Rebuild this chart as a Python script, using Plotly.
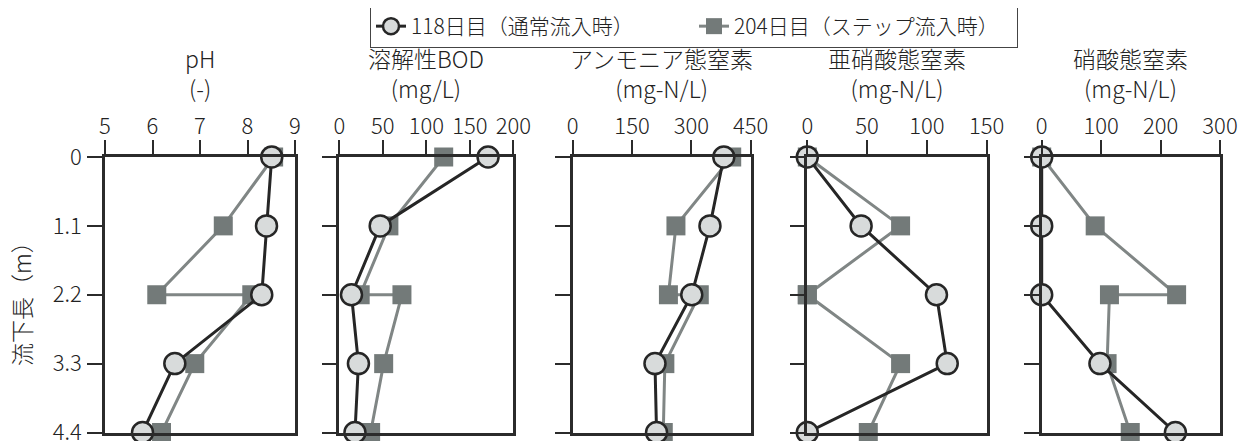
import plotly.graph_objects as go

# ---- data ----
depth1 = [0, 1.1, 2.2, 3.3, 4.4]               # 118日目
depth2 = [0, 1.1, 2.2, 2.2, 3.3, 4.4]          # 204日目 (step inflow at 2.2 m)
y_ticks = [0, 1.1, 2.2, 3.3, 4.4]
y_tick_labels = ["0", "1.1", "2.2", "3.3", "4.4"]

titles = ["pH<br>(-)", "溶解性BOD<br>(mg/L)", "アンモニア態窒素<br>(mg-N/L)",
          "亜硝酸態窒素<br>(mg-N/L)", "硝酸態窒素<br>(mg-N/L)"]
x_ranges = [[5, 9], [0, 200], [0, 450], [0, 150], [0, 300]]
x_ticks = [[5, 6, 7, 8, 9], [0, 50, 100, 150, 200], [0, 150, 300, 450],
           [0, 50, 100, 150], [0, 100, 200, 300]]

ph_118 = [8.51, 8.40, 8.30, 6.47, 5.79]
ph_204 = [8.55, 7.49, 6.09, 8.09, 6.89, 6.19]
bod_118 = [171, 47, 14, 22, 18]
bod_204 = [120, 57, 24, 72, 51, 36]
nh4_118 = [382, 347, 301, 208, 212]
nh4_204 = [402, 261, 242, 320, 233, 229]
no2_118 = [0, 45, 108, 117, 0]
no2_204 = [0, 78, 0, 0, 78, 51]
no3_118 = [0, 0, 0, 98, 225]
no3_204 = [0, 90, 227, 114, 110, 149]

series_118 = [ph_118, bod_118, nh4_118, no2_118, no3_118]
series_204 = [ph_204, bod_204, nh4_204, no2_204, no3_204]

name_118 = "118日目（通常流入時）"
name_204 = "204日目（ステップ流入時）"

# ---- layout geometry (pixels in the screenshot; page body has an 8px margin) ----
W, H = 1249, 441
OFF = 8
panel_px = [(105, 295), (339.3, 513.3), (572.7, 750.7), (807.3, 986.7), (1041.7, 1220)]
top_px, bot_px = 157, 432.5


def px_x(p):
    return (p - OFF) / W


def px_y(p):
    return 1 - (p - OFF) / H


FONT = "Noto Sans CJK JP, Noto Sans, sans-serif"
DARK = "#2b2b2b"
LINE1 = "#262626"
FILL1 = "#d8dbdb"
SQ = "#737a79"
LINE2 = "#808685"
TXT = "#222222"

fig = go.Figure()
layout = dict(
    width=W, height=H, margin=dict(l=0, r=0, t=0, b=0, autoexpand=False),
    paper_bgcolor="white", plot_bgcolor="white",
    font=dict(family=FONT, size=20, color=TXT, weight=300),
    showlegend=True,
)

for i in range(5):
    xa = "x" if i == 0 else f"x{i+1}"
    ya = "y" if i == 0 else f"y{i+1}"
    fig.add_trace(go.Scatter(
        x=series_204[i], y=depth2, xaxis=xa, yaxis=ya, mode="lines+markers",
        name=name_204, legendgroup="b", showlegend=(i == 0), legendrank=2,
        line=dict(color=LINE2, width=3),
        marker=dict(symbol="square", size=19, color=SQ, line=dict(width=0)),
        cliponaxis=False))
    fig.add_trace(go.Scatter(
        x=series_118[i], y=depth1, xaxis=xa, yaxis=ya, mode="lines+markers",
        name=name_118, legendgroup="a", showlegend=(i == 0), legendrank=1,
        line=dict(color=LINE1, width=3),
        marker=dict(symbol="circle", size=21, color=FILL1, line=dict(color=LINE1, width=2.5)),
        cliponaxis=False))

    x0, x1 = panel_px[i]
    xkey = "xaxis" if i == 0 else f"xaxis{i+1}"
    ykey = "yaxis" if i == 0 else f"yaxis{i+1}"
    layout[xkey] = dict(
        domain=[px_x(x0), px_x(x1)], range=x_ranges[i], side="top", anchor=ya,
        tickvals=x_ticks[i], ticks="outside", ticklen=14, tickwidth=2, tickcolor=DARK,
        showline=True, linecolor=DARK, linewidth=2.5, mirror=True, automargin=False,
        showgrid=False, zeroline=False, ticklabelstandoff=-3,
        tickfont=dict(size=22, family=FONT, color=TXT, weight=300), fixedrange=True)
    layout[ykey] = dict(
        domain=[px_y(bot_px), px_y(top_px)], range=[4.4, 0], anchor=xa,
        tickvals=y_ticks, ticktext=y_tick_labels, showticklabels=(i == 0),
        ticks="outside", ticklen=15, tickwidth=2, tickcolor=DARK, automargin=False,
        showline=True, linecolor=DARK, linewidth=2.5, mirror=True,
        showgrid=False, zeroline=False, ticklabelstandoff=1,
        tickfont=dict(size=22, family=FONT, color=TXT, weight=300), fixedrange=True)

annotations = []
for i in range(5):
    x0, x1 = panel_px[i]
    annotations.append(dict(
        text=titles[i], x=px_x((x0 + x1) / 2), y=px_y(39), xref="paper", yref="paper",
        xanchor="center", yanchor="top", showarrow=False, align="center",
        font=dict(size=23, family=FONT, color=TXT, weight=300)))
annotations.append(dict(
    text="流下長（m）", x=px_x(21), y=px_y(298), xref="paper", yref="paper",
    xanchor="center", yanchor="middle", textangle=-90, showarrow=False,
    font=dict(size=23, family=FONT, color=TXT, weight=300)))
layout["annotations"] = annotations

layout["legend"] = dict(
    orientation="h", x=px_x(370), xanchor="left", y=px_y(5), yanchor="top",
    bordercolor="#444444", borderwidth=1, bgcolor="white",
    font=dict(size=21, family=FONT, color=TXT, weight=300),
    itemsizing="trace", traceorder="normal",
    entrywidth=278, entrywidthmode="pixels",
    tracegroupgap=0)

fig.update_layout(**layout)
fig.write_html("out.html")
